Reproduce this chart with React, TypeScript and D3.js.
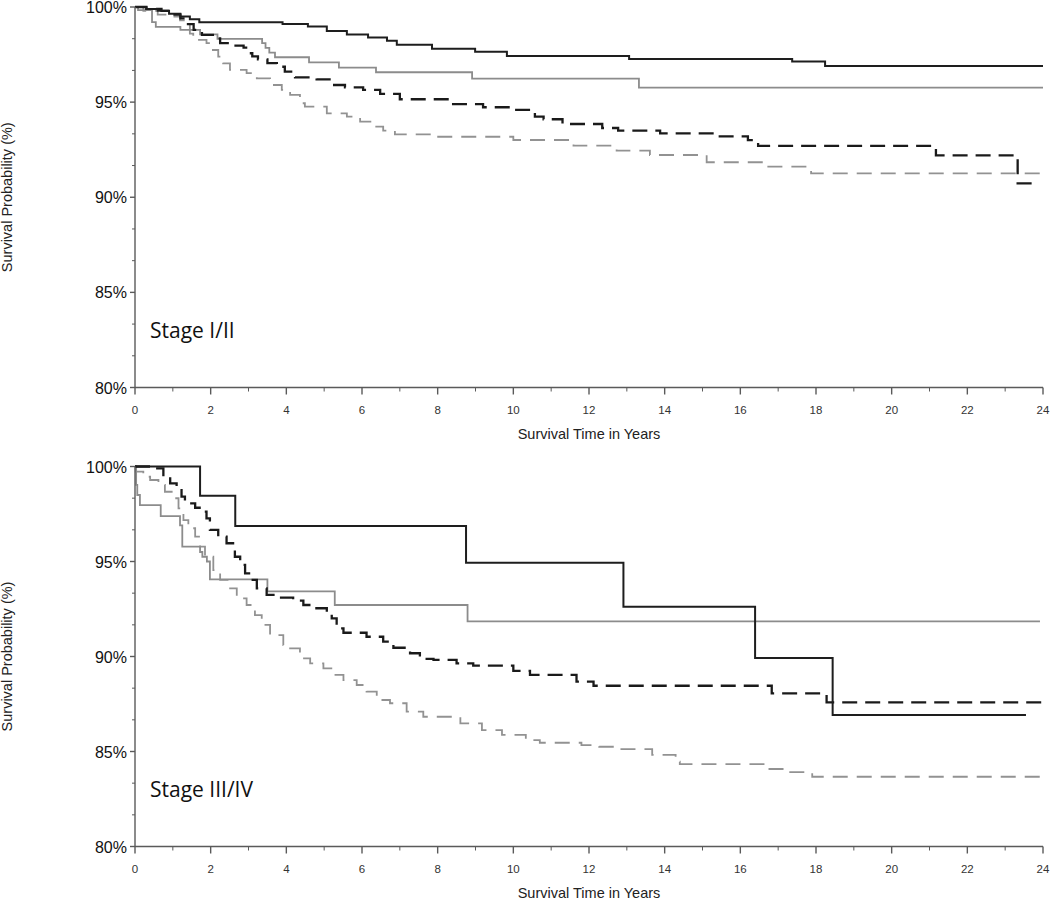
import React from "react";
import * as d3 from "d3";

// ---------- data (time in years, survival %) ----------
const X_TICKS = [0, 2, 4, 6, 8, 10, 12, 14, 16, 18, 20, 22, 24];
const Y_TICKS = [80, 85, 90, 95, 100];

const topBlackSolid: [number, number][] = [
  [0, 100], [0.3, 99.9], [0.6, 99.8], [0.9, 99.65], [1.2, 99.5], [1.45, 99.35], [1.7, 99.2],
  [3.9, 99.1], [4.57, 98.97], [5.07, 98.74], [5.6, 98.56], [6.16, 98.4], [6.66, 98.23],
  [6.92, 98.02], [7.85, 97.8], [8.99, 97.65], [9.83, 97.43], [13.06, 97.27], [17.37, 97.13],
  [18.24, 96.9], [24, 96.9],
];
const topGraySolid: [number, number][] = [
  [0, 100], [0.08, 99.84], [0.45, 99.2], [0.55, 98.96], [1.2, 98.8], [1.72, 98.56], [2.18, 98.32],
  [3.36, 98.1], [3.45, 97.85], [3.55, 97.6], [3.7, 97.36], [4.6, 97.09], [5.39, 96.81],
  [6.37, 96.57], [8.91, 96.23], [13.32, 95.76], [24, 95.76],
];
const topBlackDashed: [number, number][] = [
  [0, 100], [0.3, 99.9], [0.7, 99.8], [1.0, 99.6], [1.2, 99.4], [1.4, 99.1], [1.55, 98.8],
  [1.77, 98.53], [2.12, 98.35], [2.25, 98.1], [2.5, 97.97], [2.87, 97.86], [2.99, 97.57],
  [3.1, 97.4], [3.25, 97.25], [3.5, 97.05], [3.75, 96.86], [3.96, 96.6], [4.23, 96.3],
  [4.8, 96.2], [5.2, 95.9], [5.55, 95.78], [6.03, 95.64], [6.48, 95.43], [7.0, 95.15],
  [8.33, 94.9], [9.2, 94.73], [10.0, 94.59], [10.57, 94.24], [10.8, 94.1], [11.3, 93.85],
  [12.35, 93.64], [12.77, 93.5], [13.88, 93.36], [15.38, 93.2], [16.2, 93.0], [16.47, 92.7],
  [21.17, 92.2], [23.33, 90.73], [23.79, 90.73],
];
const topGrayDashed: [number, number][] = [
  [0, 100], [0.22, 99.8], [0.6, 99.6], [0.93, 99.5], [1.19, 99.3], [1.37, 99.05], [1.45, 98.6],
  [1.54, 98.27], [1.89, 98.1], [2.03, 97.74], [2.2, 97.39], [2.33, 97.04], [2.51, 96.69],
  [2.95, 96.52], [3.22, 96.25], [3.57, 95.9], [3.88, 95.64], [4.1, 95.38], [4.36, 94.94],
  [4.49, 94.76], [5.07, 94.41], [5.6, 94.24], [5.95, 93.97], [6.3, 93.71], [6.56, 93.5],
  [6.87, 93.31], [7.97, 93.18], [10.0, 93.01], [11.59, 92.71], [12.73, 92.45], [13.61, 92.22],
  [15.11, 91.84], [16.67, 91.61], [17.87, 91.26], [24, 91.26],
];

const botBlackSolid: [number, number][] = [
  [0, 100], [1.72, 98.46], [2.65, 96.87], [8.75, 94.94], [12.91, 92.62], [16.39, 89.92],
  [18.44, 86.92], [23.55, 86.92],
];
const botGraySolid: [number, number][] = [
  [0, 100], [0.03, 99.03], [0.06, 98.5], [0.13, 97.97], [0.68, 97.39], [1.19, 96.9],
  [1.25, 95.78], [1.72, 95.5], [1.78, 95.25], [1.9, 95.0], [1.98, 94.06], [3.5, 93.43],
  [5.28, 92.71], [8.79, 91.85], [23.92, 91.85],
];
const botBlackDashed: [number, number][] = [
  [0, 100], [0.53, 99.9], [0.75, 99.46], [0.93, 99.11], [1.1, 98.76], [1.23, 98.41],
  [1.32, 98.06], [1.59, 97.83], [1.76, 97.62], [1.89, 97.27], [1.98, 96.66], [2.2, 96.31],
  [2.42, 95.96], [2.64, 95.25], [2.78, 94.82], [2.91, 94.38], [3.08, 94.03], [3.22, 93.59],
  [3.48, 93.24], [3.66, 93.1], [4.18, 92.94], [4.45, 92.71], [4.71, 92.54], [5.07, 92.27],
  [5.2, 92.01], [5.33, 91.48], [5.51, 91.25], [6.12, 91.04], [6.56, 90.78], [6.83, 90.46],
  [7.27, 90.17], [7.53, 89.87], [7.89, 89.82], [8.5, 89.64], [8.94, 89.52], [10.0, 89.24],
  [10.44, 89.03], [11.67, 88.68], [12.12, 88.46], [16.83, 88.06], [18.28, 87.59], [24, 87.59],
];
const botGrayDashed: [number, number][] = [
  [0, 100], [0.02, 99.73], [0.22, 99.46], [0.4, 99.29], [0.62, 99.03], [0.79, 98.67],
  [0.97, 98.33], [1.15, 97.8], [1.28, 97.18], [1.41, 96.75], [1.59, 96.31], [1.72, 95.78],
  [1.85, 95.25], [2.07, 94.55], [2.25, 94.03], [2.47, 93.59], [2.69, 93.06], [2.95, 92.71],
  [3.17, 92.18], [3.35, 91.66], [3.57, 91.13], [3.92, 90.6], [4.1, 90.43], [4.36, 89.9],
  [4.63, 89.64], [4.98, 89.38], [5.24, 89.03], [5.51, 88.76], [5.86, 88.5], [6.12, 88.15],
  [6.39, 87.71], [6.74, 87.54], [7.18, 87.1], [7.62, 86.83], [8.6, 86.48], [9.17, 86.13],
  [9.7, 85.87], [10.33, 85.6], [10.7, 85.46], [11.8, 85.34], [12.27, 85.25], [12.7, 85.13],
  [13.67, 84.82], [14.29, 84.46], [14.4, 84.34], [16.74, 84.08], [17.2, 83.91], [17.9, 83.67],
  [24, 83.67],
];

// ---------- styles ----------
const STYLE = {
  blackSolid: { color: "#1e1e1e", width: 2, dash: "" },
  graySolid: { color: "#8c8c8c", width: 1.8, dash: "" },
  blackDashed: { color: "#1a1a1a", width: 2.3, dash: "15,8" },
  grayDashed: { color: "#929292", width: 1.8, dash: "15,9" },
};

const LEFT = 135;
const RIGHT = 1043;
const FONT = "'Liberation Sans', Arial, sans-serif";

type Series = { data: [number, number][]; style: { color: string; width: number; dash: string } };

function Panel({ top, bottom, series, label }: { top: number; bottom: number; series: Series[]; label: string }) {
  const x = d3.scaleLinear().domain([0, 24]).range([LEFT, RIGHT]);
  const y = d3.scaleLinear().domain([80, 100]).range([bottom, top]);
  const line = d3
    .line<[number, number]>()
    .x((d) => x(d[0]))
    .y((d) => y(d[1]))
    .curve(d3.curveStepAfter);
  const minorY = d3
    .range(0, 13)
    .map((i) => 80 + (i * 5) / 3)
    .filter((v) => !Y_TICKS.some((t) => Math.abs(t - v) < 1e-6));
  const minorX = d3.range(1, 24, 2);
  const axisColor = "#5a5a5a";
  const midY = (top + bottom) / 2;
  return (
    <g>
      {series.map((s, i) => (
        <path
          key={i}
          d={line(s.data) || ""}
          fill="none"
          stroke={s.style.color}
          strokeWidth={s.style.width}
          strokeDasharray={s.style.dash || undefined}
        />
      ))}
      {/* y axis */}
      <line x1={LEFT} x2={LEFT} y1={y(100)} y2={y(80)} stroke={axisColor} strokeWidth={1.4} />
      {Y_TICKS.map((t) => (
        <g key={t}>
          <line x1={LEFT - 5} x2={LEFT} y1={y(t)} y2={y(t)} stroke={axisColor} strokeWidth={1.4} />
          <text x={LEFT - 8} y={y(t)} dy="0.38em" textAnchor="end" fontFamily={FONT} fontSize={16} fill="#111">
            {t}%
          </text>
        </g>
      ))}
      {minorY.map((t) => (
        <line key={t} x1={LEFT - 3} x2={LEFT} y1={y(t)} y2={y(t)} stroke={axisColor} strokeWidth={1} />
      ))}
      {/* x axis */}
      <line x1={LEFT} x2={RIGHT} y1={bottom} y2={bottom} stroke={axisColor} strokeWidth={1.4} />
      {X_TICKS.map((t) => (
        <g key={t}>
          <line x1={x(t)} x2={x(t)} y1={bottom} y2={bottom + 7} stroke={axisColor} strokeWidth={1.4} />
          <text x={x(t)} y={bottom + 26} textAnchor="middle" fontFamily={FONT} fontSize={11.5} fill="#333">
            {t}
          </text>
        </g>
      ))}
      {minorX.map((t) => (
        <line key={t} x1={x(t)} x2={x(t)} y1={bottom} y2={bottom + 4} stroke={axisColor} strokeWidth={1} />
      ))}
      <text x={(LEFT + RIGHT) / 2} y={bottom + 51} textAnchor="middle" fontFamily={FONT} fontSize={14.5} fill="#222">
        Survival Time in Years
      </text>
      <text
        transform={`translate(12,${midY}) rotate(-90)`}
        textAnchor="middle"
        fontFamily={FONT}
        fontSize={14.5}
        fill="#222"
      >
        Survival Probability (%)
      </text>
      <text x={150} y={y(82.6)} fontFamily="'Open Sans', Lato, sans-serif" fontSize={21} fill="#111">
        {label}
      </text>
    </g>
  );
}

export default function App() {
  const topSeries: Series[] = [
    { data: topGrayDashed, style: STYLE.grayDashed },
    { data: topGraySolid, style: STYLE.graySolid },
    { data: topBlackDashed, style: STYLE.blackDashed },
    { data: topBlackSolid, style: STYLE.blackSolid },
  ];
  const botSeries: Series[] = [
    { data: botGrayDashed, style: STYLE.grayDashed },
    { data: botGraySolid, style: STYLE.graySolid },
    { data: botBlackDashed, style: STYLE.blackDashed },
    { data: botBlackSolid, style: STYLE.blackSolid },
  ];
  return (
    <svg width={1050} height={899} style={{ position: "absolute", left: 0, top: 0, background: "#fff" }}>
      <rect width={1050} height={899} fill="#fff" />
      <Panel top={7} bottom={387.5} series={topSeries} label="Stage I/II" />
      <Panel top={466.5} bottom={846.5} series={botSeries} label="Stage III/IV" />
    </svg>
  );
}
